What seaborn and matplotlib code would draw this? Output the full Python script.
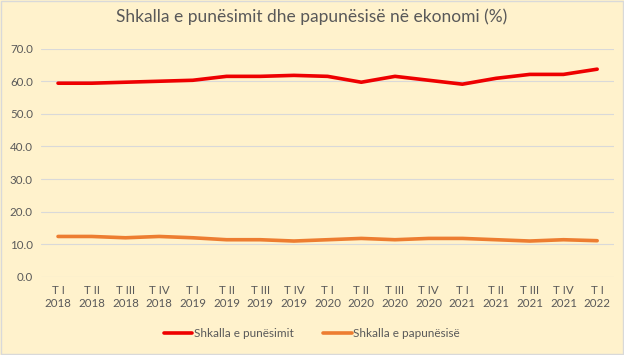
import pandas as pd
import numpy as np
import matplotlib.pyplot as plt
import seaborn as sns

# tremujorët
tremujori = ['T I', 'T II', 'T III', 'T IV', 'T I', 'T II', 'T III', 'T IV', 'T I',
             'T II', 'T III', 'T IV', 'T I', 'T II', 'T III', 'T IV', 'T I']
viti = ['2018', '2018', '2018', '2018', '2019', '2019', '2019', '2019', '2020',
        '2020', '2020', '2020', '2021', '2021', '2021', '2021', '2022']

punesimi = [59.4, 59.4, 59.7, 60.0, 60.3, 61.5, 61.5, 61.8, 61.5,
            59.7, 61.5, 60.3, 59.1, 60.9, 62.1, 62.1, 63.7]
papunesia = [12.4, 12.4, 12.0, 12.4, 12.0, 11.4, 11.4, 11.0, 11.4,
             11.8, 11.4, 11.8, 11.8, 11.4, 11.0, 11.4, 11.1]

emrat = ['Shkalla e punësimit', 'Shkalla e papunësisë']
ngjyrat = ['#EE0000', '#ED7D31']

df = pd.DataFrame({
    'x': list(range(len(tremujori))) * 2,
    'vlera': punesimi + papunesia,
    'seria': [emrat[0]] * len(punesimi) + [emrat[1]] * len(papunesia),
})

sns.set_style('white')
plt.rcParams['font.family'] = ['Lato', 'DejaVu Sans']

sfondi = '#FFF2CC'
teksti = '#595959'

fig = plt.figure(figsize=(6.24, 3.55), dpi=100, facecolor=sfondi)
ax = fig.add_axes([0.066, 0.22, 0.918, 0.643])
ax.set_facecolor(sfondi)

sns.lineplot(data=df, x='x', y='vlera', hue='seria', palette=ngjyrat,
             linewidth=2.6, ax=ax, legend=False)

ax.set_xlim(-0.5, len(tremujori) - 0.5)
ax.set_ylim(0, 70)
ax.set_yticks(np.arange(0, 71, 10))
ax.set_yticklabels([f'{v:.1f}' for v in np.arange(0, 71, 10)], color=teksti, fontsize=8.3)
ax.set_xticks(range(len(tremujori)))
ax.set_xticklabels([f'{t}\n{v}' for t, v in zip(tremujori, viti)], color=teksti, fontsize=8.3,
                   linespacing=1.25)
ax.tick_params(axis='both', length=0, pad=6)
ax.grid(axis='y', color='#D9D9D9', linewidth=0.8)
for s in ax.spines.values():
    s.set_visible(False)
ax.set_xlabel('')
ax.set_ylabel('')

fig.suptitle('Shkalla e punësimit dhe papunësisë në ekonomi (%)', y=0.975,
             fontsize=12.5, color=teksti)

linjat = [plt.Line2D([0], [0], color=c, linewidth=2.6) for c in ngjyrat]
fig.legend(linjat, emrat, loc='center', bbox_to_anchor=(0.5, 0.06), ncol=2,
           frameon=False, fontsize=8.5, labelcolor=teksti, handlelength=2.4,
           handletextpad=0.15, columnspacing=2.5)

# kornizë e hollë rreth figurës
fig.patches.append(plt.Rectangle((0.001, 0.002), 0.997, 0.995, transform=fig.transFigure,
                                 fill=False, edgecolor='#D9D9D9', linewidth=1))

fig.savefig('out.png', dpi=100, facecolor=sfondi)
